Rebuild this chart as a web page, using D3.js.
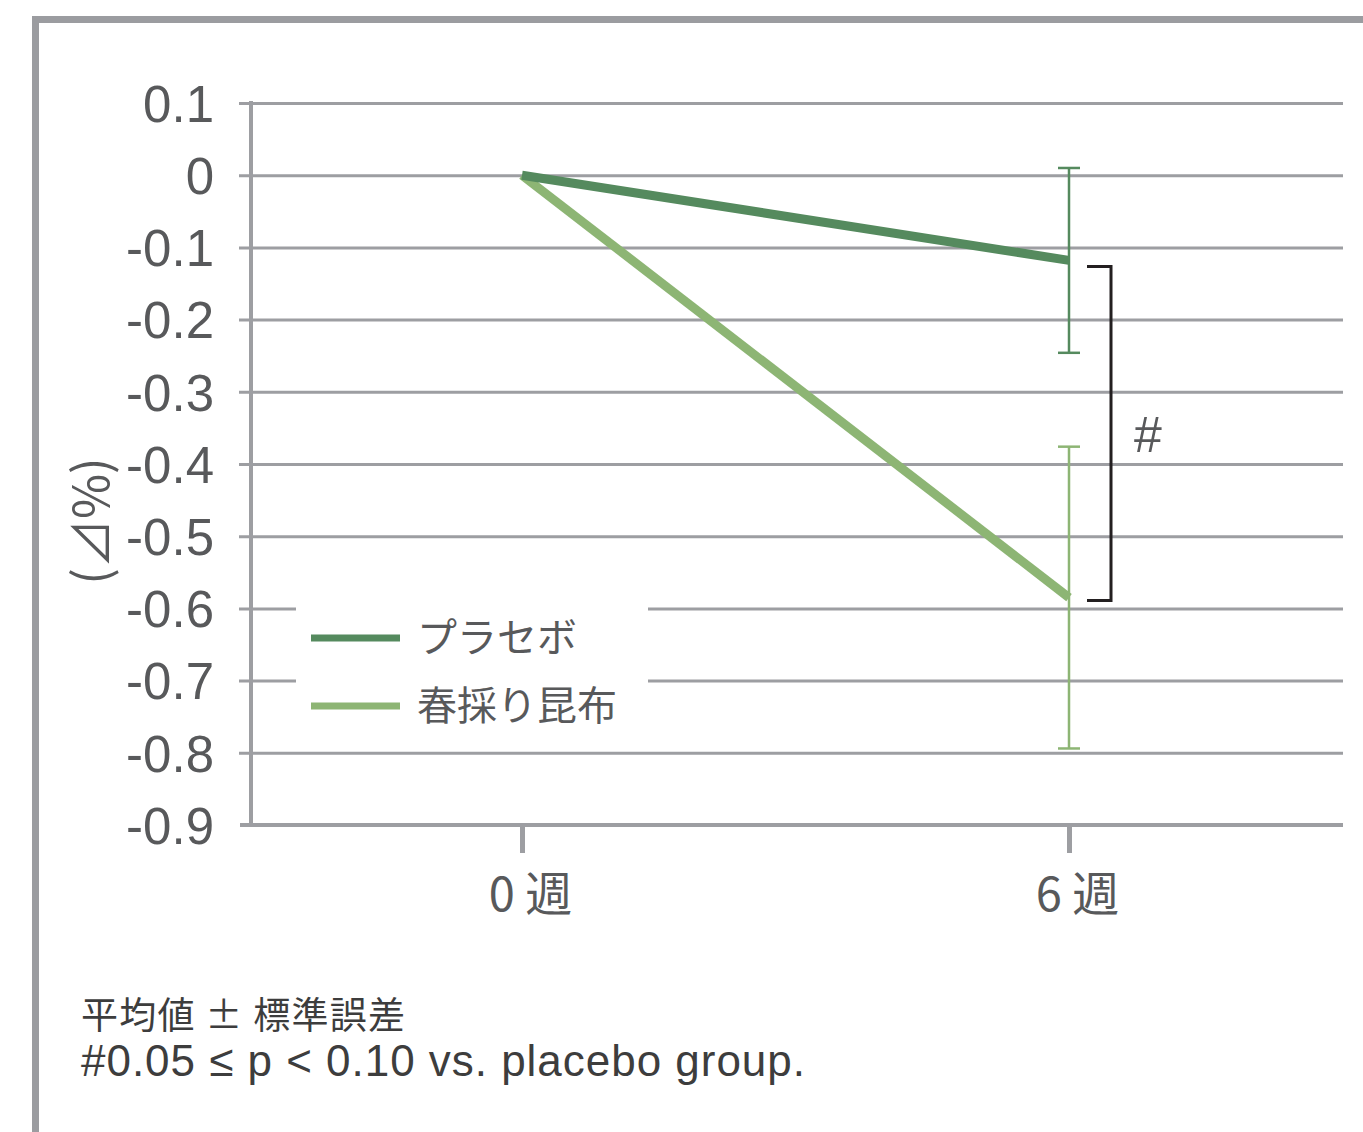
<!DOCTYPE html>
<html><head><meta charset="utf-8">
<script src="https://cdn.jsdelivr.net/npm/d3@7"></script>
<style>
body{margin:0;background:#fff;}
svg{display:block;}
</style></head>
<body>
<svg id="chart" width="1363" height="1132"></svg>
<script>
// ---- data ----
const weeks = [0, 6];
const weekLabels = ["0 週", "6 週"];
const placebo = [0, -0.118];
const placeboSE = [null, 0.128];
const kelp = [0, -0.585];
const kelpSE = [null, 0.209];
const yTicks = [0.1, 0, -0.1, -0.2, -0.3, -0.4, -0.5, -0.6, -0.7, -0.8, -0.9];
const seriesNames = ["プラセボ", "春採り昆布"];
const yLabel = "(⊿%)";
const notes = ["平均値 ± 標準誤差", "#0.05 ≤ p < 0.10 vs. placebo group."];
const sigMark = "#";

// ---- layout ----
const svg = d3.select("#chart");
const grid = "#9d9ea2", txt = "#58595b";
const cPlacebo = "#558a5e", cKelp = "#8db574";
const numFont = "'Liberation Sans', Arial, sans-serif";
const jpFont = "'Noto Sans CJK JP', sans-serif";
const plotL = 251, plotR = 1343;

const y = d3.scaleLinear().domain([0.1, -0.9]).range([103, 825]);
const x = d3.scaleLinear().domain([0, 6]).range([522, 1069]);

// frame
svg.append("path").attr("d", "M35.5,1140 V19.5 H1370")
  .attr("fill", "none").attr("stroke", "#9b9ca0").attr("stroke-width", 7);

// gridlines + y axis
const yAxis = d3.axisLeft(y).tickValues(yTicks).tickSize(0).tickPadding(0)
  .tickFormat(d => d3.format(".1~f")(d).replace("−", "-"));
const gy = svg.append("g").attr("transform", `translate(${plotL},0)`).call(yAxis);
gy.select(".domain").remove();
gy.selectAll(".tick text").attr("x", -37).attr("dy", "0.36em")
  .attr("font-family", numFont).attr("font-size", 51).attr("fill", txt);
gy.selectAll(".tick").filter(d => d !== -0.9).append("line")
  .attr("x1", -12).attr("x2", plotR - plotL)
  .attr("stroke", grid).attr("stroke-width", 3);

// legend background
const legend = svg.append("g");
legend.append("rect").attr("x", 296).attr("y", 598).attr("width", 352).attr("height", 120).attr("fill", "#fff");

// x axis
svg.append("line").attr("x1", 240).attr("x2", plotR).attr("y1", y(-0.9)).attr("y2", y(-0.9))
  .attr("stroke", grid).attr("stroke-width", 4);
svg.append("line").attr("x1", plotL).attr("x2", plotL).attr("y1", y(0.1) - 2).attr("y2", y(-0.9))
  .attr("stroke", grid).attr("stroke-width", 4);
const xAxis = d3.axisBottom(x).tickValues(weeks).tickSize(28).tickPadding(0)
  .tickFormat((d, i) => weekLabels[i]);
const gx = svg.append("g").attr("transform", `translate(0,${y(-0.9)})`).call(xAxis);
gx.select(".domain").remove();
gx.selectAll(".tick line").attr("stroke", grid).attr("stroke-width", 5);
gx.selectAll(".tick text").attr("y", 86).attr("dy", 0).attr("dx", 8)
  .attr("font-family", jpFont).attr("font-size", 47).attr("fill", txt);

// y label
svg.append("text").attr("transform", "translate(109,521) rotate(-90)")
  .attr("text-anchor", "middle").attr("font-family", jpFont).attr("font-size", 49)
  .attr("fill", txt).text(yLabel);

// error bars
function errBar(vals, se, color) {
  vals.forEach((v, i) => {
    if (se[i] == null) return;
    const g = svg.append("g").attr("stroke", color).attr("stroke-width", 2.5);
    const cx = x(weeks[i]);
    g.append("line").attr("x1", cx).attr("x2", cx).attr("y1", y(v + se[i])).attr("y2", y(v - se[i]));
    [v + se[i], v - se[i]].forEach(e => g.append("line")
      .attr("x1", cx - 11).attr("x2", cx + 11).attr("y1", y(e)).attr("y2", y(e)));
  });
}
errBar(placebo, placeboSE, cPlacebo);
errBar(kelp, kelpSE, cKelp);

// lines
const line = d3.line().x((d, i) => x(weeks[i])).y(d => y(d));
svg.append("path").datum(kelp).attr("d", line).attr("fill", "none")
  .attr("stroke", cKelp).attr("stroke-width", 9);
svg.append("path").datum(placebo).attr("d", line).attr("fill", "none")
  .attr("stroke", cPlacebo).attr("stroke-width", 9);

// bracket
const bx = x(6) + 42;
svg.append("path")
  .attr("d", `M${x(6) + 18},${y(placebo[1]) + 6} H${bx} V${y(kelp[1]) + 3} H${x(6) + 18}`)
  .attr("fill", "none").attr("stroke", "#231f20").attr("stroke-width", 3);
svg.append("text").attr("x", bx + 37).attr("y", 452).attr("text-anchor", "middle")
  .attr("font-family", numFont).attr("font-size", 50).attr("fill", txt).text(sigMark);

// legend
[[cPlacebo, 638], [cKelp, 706]].forEach(([c, ly], i) => {
  legend.append("line").attr("x1", 311).attr("x2", 400).attr("y1", ly).attr("y2", ly)
    .attr("stroke", c).attr("stroke-width", 7);
  legend.append("text").attr("x", 417).attr("y", ly).attr("dy", "0.36em")
    .attr("font-family", jpFont).attr("font-size", 40).attr("fill", txt).text(seriesNames[i]);
});

// notes
svg.append("text").attr("x", 81).attr("y", 1029).attr("font-family", jpFont)
  .attr("font-size", 37).attr("fill", "#3d3d3d")
  .attr("textLength", 324).attr("lengthAdjust", "spacing").text(notes[0]);
svg.append("text").attr("x", 81).attr("y", 1076).attr("font-family", numFont)
  .attr("font-size", 44).attr("fill", "#3d3d3d")
  .attr("textLength", 724).attr("lengthAdjust", "spacing").text(notes[1]);
</script>
</body></html>
